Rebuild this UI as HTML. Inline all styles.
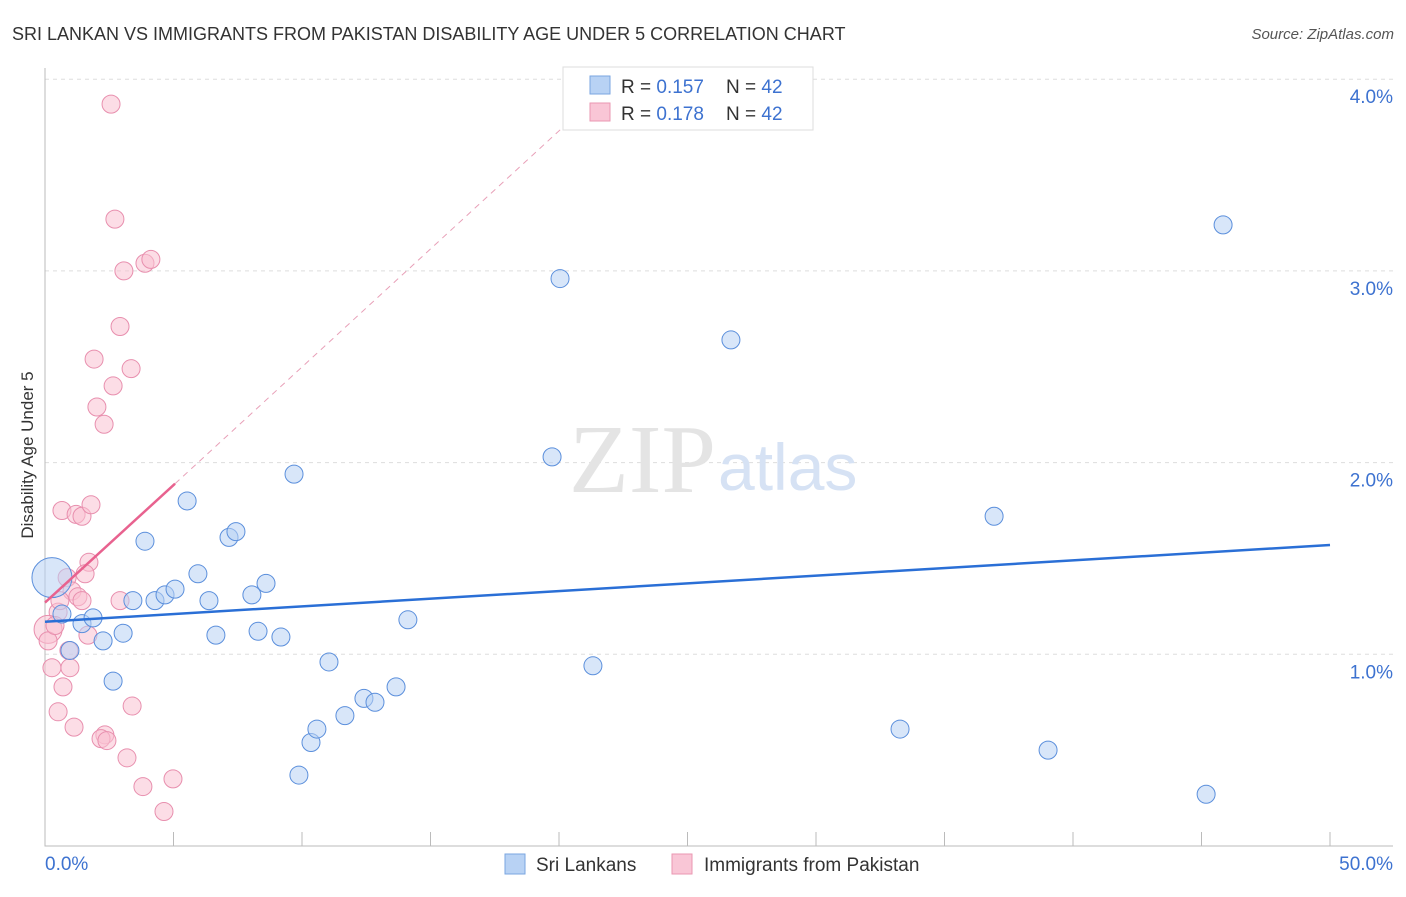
<!DOCTYPE html>
<html><head><meta charset="utf-8"><style>
body{margin:0;background:#fff;font-family:"Liberation Sans",sans-serif}
</style></head><body>
<svg id="c" width="1406" height="892" xmlns="http://www.w3.org/2000/svg">
<text x="12" y="40" font-size="18" fill="#333">SRI LANKAN VS IMMIGRANTS FROM PAKISTAN DISABILITY AGE UNDER 5 CORRELATION CHART</text>
<text x="1394" y="39" font-size="15" fill="#555" font-style="italic" text-anchor="end">Source: ZipAtlas.com</text>
<text x="33" y="455" font-size="17" fill="#333" text-anchor="middle" transform="rotate(-90 33 455)">Disability Age Under 5</text>
<g id="grid"></g>
<text x="716" y="492" font-size="98" fill="#e4e4e4" font-family="Liberation Serif" text-anchor="end">ZIP</text>
<text x="718" y="490" font-size="66" fill="#d6e2f4">atlas</text>
<g id="marks"></g>
<g>
<rect x="563" y="67" width="250" height="63" fill="#fff" stroke="#ddd"/>
<rect x="590" y="76" width="20" height="18" fill="#b8d2f4" stroke="#7aa6e0"/>
<rect x="590" y="103" width="20" height="18" fill="#f9c6d6" stroke="#ea97b2"/>
<text x="621" y="93" font-size="19" fill="#333">R = <tspan fill="#3d72d0">0.157</tspan></text>
<text x="726" y="93" font-size="19" fill="#333">N = <tspan fill="#3d72d0">42</tspan></text>
<text x="621" y="120" font-size="19" fill="#333">R = <tspan fill="#3d72d0">0.178</tspan></text>
<text x="726" y="120" font-size="19" fill="#333">N = <tspan fill="#3d72d0">42</tspan></text>
</g>
<g>
<rect x="505" y="854" width="20" height="20" fill="#b8d2f4" stroke="#7aa6e0"/>
<text x="536" y="871" font-size="19" fill="#333">Sri Lankans</text>
<rect x="672" y="854" width="20" height="20" fill="#f9c6d6" stroke="#ea97b2"/>
<text x="704" y="871" font-size="19" fill="#333">Immigrants from Pakistan</text>
</g>
</svg>
<script>
const blueX=[0.27,0.66,0.97,1.44,1.87,2.26,2.65,3.04,3.42,3.89,4.28,4.67,5.06,5.53,5.95,6.38,6.65,7.16,7.43,8.05,8.29,8.6,9.18,9.69,9.88,10.35,10.58,11.05,11.67,12.41,12.84,13.66,14.12,19.73,20.04,21.32,26.69,33.27,36.93,39.03,45.18,45.84];
const blueY=[1.40,1.21,1.02,1.16,1.19,1.07,0.86,1.11,1.28,1.59,1.28,1.31,1.34,1.80,1.42,1.28,1.10,1.61,1.64,1.31,1.12,1.37,1.09,1.94,0.37,0.54,0.61,0.96,0.68,0.77,0.75,0.83,1.18,2.03,2.96,0.94,2.64,0.61,1.72,0.50,0.27,3.24];
const pinkX=[2.57,2.72,3.07,3.89,4.12,2.92,1.91,3.35,2.65,2.02,2.30,0.66,1.21,1.44,1.79,1.71,1.56,0.86,1.05,1.28,1.44,2.92,0.51,0.12,0.12,1.67,0.93,0.27,0.97,0.70,0.51,1.13,3.39,2.33,2.18,2.41,3.19,3.81,4.98,4.63,0.39,0.58];
const pinkY=[3.87,3.27,3.00,3.04,3.06,2.71,2.54,2.49,2.40,2.29,2.20,1.75,1.73,1.72,1.78,1.48,1.42,1.40,1.33,1.30,1.28,1.28,1.22,1.13,1.07,1.10,1.02,0.93,0.93,0.83,0.70,0.62,0.73,0.58,0.56,0.55,0.46,0.31,0.35,0.18,1.15,1.28];
const yTicks=[1,2,3,4];
const yTickLabels=["1.0%","2.0%","3.0%","4.0%"];
const xTicks=[0,5,10,15,20,25,30,35,40,45,50];
const blueTrend=[[0,1.17],[50,1.57]];
const pinkTrend=[[0,1.27],[5.06,1.89]];
const pinkDash=[[5.06,1.89],[21.7,3.94]];
const sx=v=>45+v*25.7, sy=v=>846-v*191.7;
const NS="http://www.w3.org/2000/svg";
function mk(p,t,a){const e=document.createElementNS(NS,t);for(const k in a)e.setAttribute(k,a[k]);p.appendChild(e);return e;}
const g=document.getElementById('grid'), m=document.getElementById('marks');
yTicks.forEach((t,i)=>{
 const l=mk(g,'line',{x1:45,x2:1393,y1:sy(t),y2:sy(t),stroke:'#ddd','stroke-dasharray':'4 4'});
 
 
 const tx=mk(g,'text',{x:1393,y:sy(t)+24,'font-size':19,fill:'#3d72d0','text-anchor':'end'});
 tx.textContent=yTickLabels[i];
 
 
});
const ax=mk(g,'path',{d:'M45 68V846H1393',stroke:'#bbb',fill:'none'});


xTicks.forEach(t=>{
 const l=mk(g,'line',{x1:sx(t),x2:sx(t),y1:832,y2:846,stroke:'#bbb'});
 
 
});
[[0,"0.0%","start",45],[50,"50.0%","end",1393]].forEach(d=>{
 const tx=mk(g,'text',{x:d[3],y:870,'font-size':19,fill:'#3d72d0','text-anchor':d[2]});
 tx.textContent=d[1];
 
 
});
function pts(X,Y,fill,stroke,name,bigIdx,bigR){
 X.forEach((x,i)=>{
  const c=mk(m,'circle',{cx:sx(x),cy:sy(Y[i]),r:i===bigIdx?bigR:9,fill:fill,'fill-opacity':0.55,stroke:stroke,'stroke-width':1});
  
  
 });
}
pts(pinkX,pinkY,'#f9c1d2','#e88fae','pakistan-point',23,14);
pts(blueX,blueY,'#b8d2f4','#5b8fdc','sri-lankan-point',0,20);
function line(d,stroke,w,dash,name){
 const l=mk(m,'line',{x1:sx(d[0][0]),y1:sy(d[0][1]),x2:sx(d[1][0]),y2:sy(d[1][1]),stroke:stroke,'stroke-width':w});
 if(dash)l.setAttribute('stroke-dasharray',dash);
 
 
}
line(pinkDash,'#e8a0b8',1,'6 5','pakistan-trend-extension');
line(pinkTrend,'#e8628f',2.5,null,'pakistan-trend-line');
line(blueTrend,'#2a6fd6',2.5,null,'sri-lankan-trend-line');
</script>
</body></html>
